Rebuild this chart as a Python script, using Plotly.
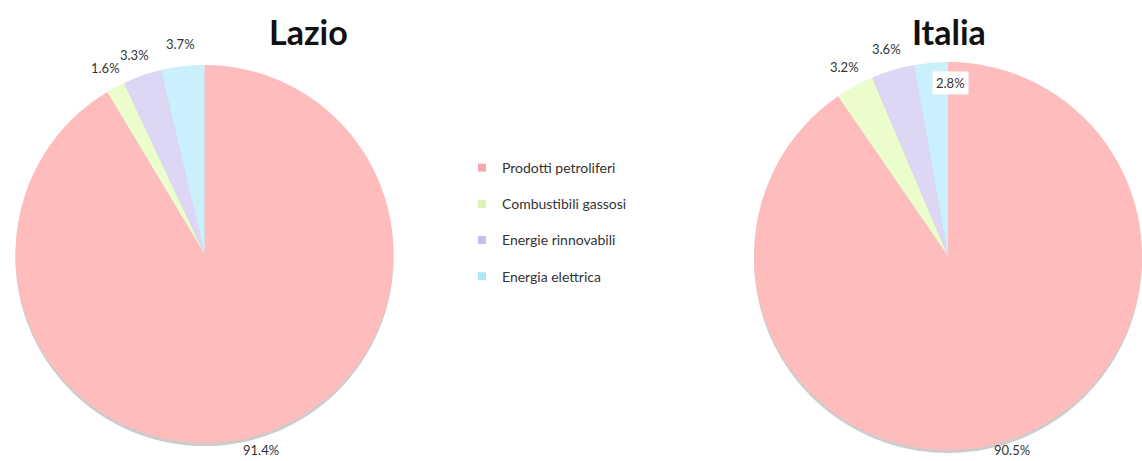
import math
import plotly.graph_objects as go

W, H = 1142, 461

categories = ["Prodotti petroliferi", "Combustibili gassosi", "Energie rinnovabili", "Energia elettrica"]
lazio_values = [91.4, 1.6, 3.3, 3.7]
italia_values = [90.5, 3.2, 3.6, 2.8]
titles = ["Lazio", "Italia"]

slice_colors = ["#ffbcbc", "#ebfccd", "#ddd6f4", "#c9f0fb"]
legend_colors = ["#f5a9ad", "#daf2b4", "#cbbde9", "#abe5f8"]
text_color = "#333333"
font_family = "Lato, 'Open Sans', sans-serif"


def px_domain(cx, cy, r):
    """Pie domain (paper units) for a circle centred at (cx, cy) px with radius r px."""
    x0, x1 = (cx - r) / W, (cx + r) / W
    y0, y1 = (H - cy - r) / H, (H - cy + r) / H
    return dict(x=[max(0, x0), min(1, x1)], y=[y0, y1])


# (values, centre x, centre y, radius) in pixels, title position
pies = [
    (lazio_values, (204.5, 254, 189), (308, 31)),
    (italia_values, (948, 256, 194), (949, 31)),
]

TITLE_HALF_W, TITLE_HALF_H = 40, 15
LABEL_HALF_W, LABEL_HALF_H = 18, 8

fig = go.Figure()

for (values, (cx, cy, r), (tx, ty)), title in zip(pies, titles):
    # soft drop shadow under each pie
    fig.add_trace(go.Pie(
        values=[1], labels=["shadow"], domain=px_domain(cx, cy + 3, r),
        marker=dict(colors=["rgba(110,110,110,0.35)"], line=dict(width=0)),
        textinfo="none", hoverinfo="skip", showlegend=False, sort=False,
    ))
    fig.add_trace(go.Pie(
        labels=categories, values=values, domain=px_domain(cx, cy, r),
        sort=False, direction="clockwise", rotation=0,
        marker=dict(colors=slice_colors, line=dict(width=0)),
        textinfo="none", showlegend=False,
    ))

    # value labels just outside each slice, at the slice's mid-angle;
    # a label that would run into the title is tucked inside the rim instead
    total = sum(values)
    start = 0.0
    for v in values:
        sweep = 360.0 * v / total
        mid = math.radians(start + sweep / 2)
        start += sweep
        lr = r + 22
        lx = cx + lr * math.sin(mid)
        ly = min(cy - lr * math.cos(mid), H - 11)
        bg = "rgba(0,0,0,0)"
        if (abs(lx - tx) < TITLE_HALF_W + LABEL_HALF_W
                and abs(ly - ty) < TITLE_HALF_H + LABEL_HALF_H):
            lr = r - 20
            lx = cx + lr * math.sin(mid) + LABEL_HALF_W
            ly = cy - lr * math.cos(mid)
            bg = "white"
        fig.add_annotation(
            text=f"{v:.1f}%", x=lx / W, y=1 - ly / H, xref="paper", yref="paper",
            showarrow=False, xanchor="center", yanchor="middle", bgcolor=bg,
            borderpad=3,
            font=dict(size=13, color=text_color, family=font_family),
        )

    fig.add_annotation(
        text=f"<b>{title}</b>", x=tx / W, y=1 - ty / H, xref="paper", yref="paper",
        showarrow=False, xanchor="center", yanchor="middle",
        font=dict(size=34, color="#111111", family=font_family),
    )

# legend entries drawn as separate groups so they can be spaced apart
for name, col in zip(categories, legend_colors):
    fig.add_trace(go.Scatter(
        x=[None], y=[None], mode="markers", name=name, legendgroup=name,
        marker=dict(symbol="square", size=8, color=col),
    ))

fig.update_layout(
    width=W, height=H,
    margin=dict(l=0, r=0, t=0, b=0),
    paper_bgcolor="white", plot_bgcolor="white",
    xaxis=dict(visible=False), yaxis=dict(visible=False),
    legend=dict(
        x=462 / W, y=1 - 152 / H, xanchor="left", yanchor="top",
        font=dict(size=14, color=text_color, family=font_family),
        tracegroupgap=15, itemwidth=30, bgcolor="rgba(0,0,0,0)",
    ),
    showlegend=True,
)

fig.write_html("out.html")
